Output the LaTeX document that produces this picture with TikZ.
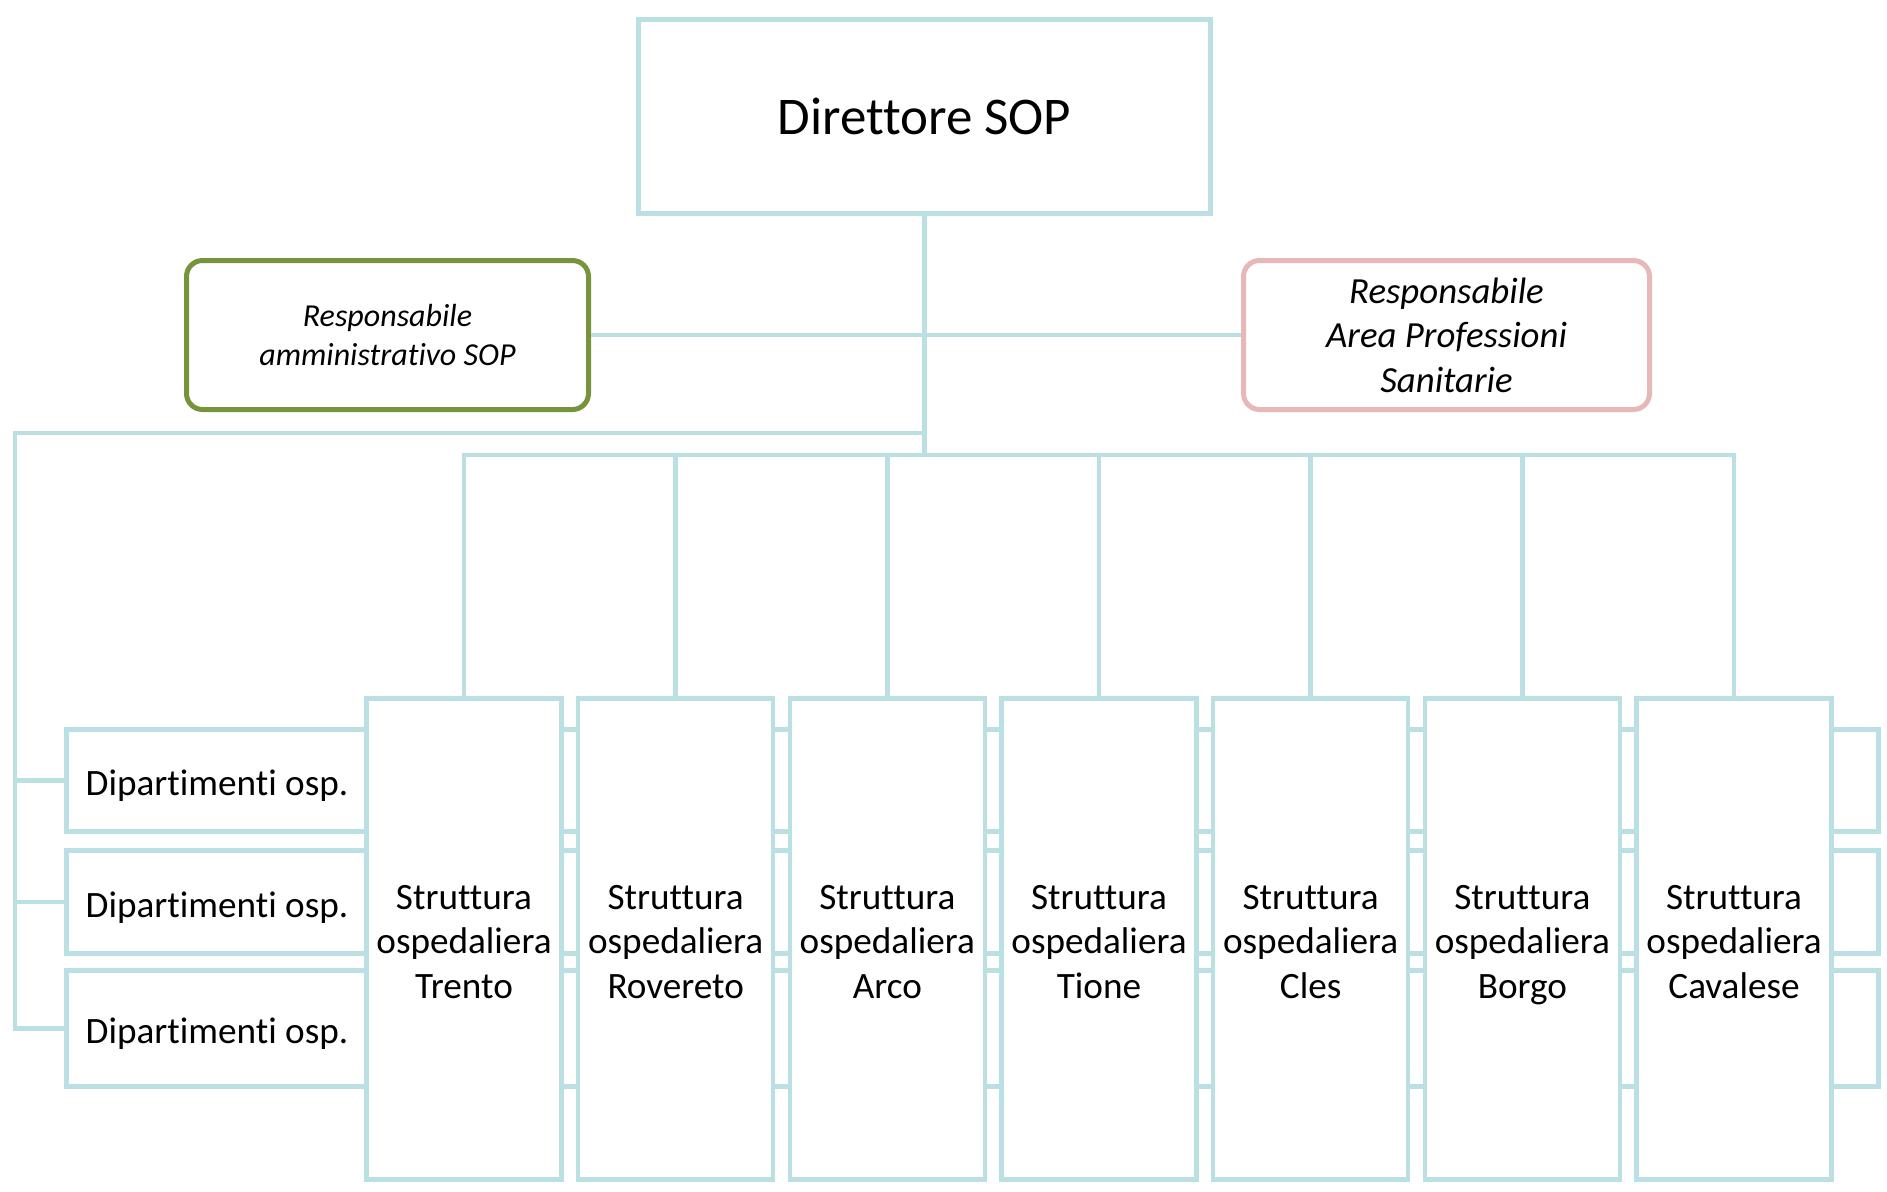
\documentclass[tikz,border=0pt]{standalone}
\usepackage{fontspec}
\setmainfont{Carlito}[Ligatures=NoCommon]
\definecolor{linec}{RGB}{187,224,227}
\definecolor{greenc}{RGB}{119,147,60}
\definecolor{pinkc}{RGB}{230,185,184}
\newcommand{\pxu}[1]{#1*0.5pt}
\begin{document}
\begin{tikzpicture}[x=0.5pt,y=-0.5pt,
  conn/.style={draw=linec,line width=2.25pt},
  boxb/.style={draw=linec,line width=2.25pt,fill=white,inner sep=0pt,align=center},
  txtm/.style={font=\fontsize{18.6}{22.3}\selectfont},
  struct/.style={boxb,minimum width=\pxu{195},minimum height=\pxu{481},txtm},
  deptbox/.style={boxb,anchor=west,minimum width=\pxu{1812}}
]
\useasboundingbox (0,0) rectangle (1887,1191);

\node[boxb,minimum width=\pxu{572},minimum height=\pxu{194},font=\fontsize{26.5}{32}\selectfont] (dir) at (924.5,116.5) {Direttore SOP};
\node[boxb,draw=greenc,line width=2.5pt,rounded corners=8pt,minimum width=\pxu{402},minimum height=\pxu{149},font=\itshape\fontsize{16}{19.3}\selectfont] (adm) at (387.5,335) {Responsabile\\amministrativo SOP};
\node[boxb,draw=pinkc,line width=2.5pt,rounded corners=8pt,minimum width=\pxu{406},minimum height=\pxu{149},font=\itshape\fontsize{18.4}{22.3}\selectfont] (pro) at (1446.5,335) {Responsabile\\Area Professioni\\Sanitarie};

\node[deptbox,minimum height=\pxu{102}] (d1) at (64,780.5) {};
\node[deptbox,minimum height=\pxu{103}] (d2) at (64,902) {};
\node[deptbox,minimum height=\pxu{116}] (d3) at (64,1028.5) {};
\node[txtm,anchor=base,inner sep=0pt] (d1t) at (217,795) {Dipartimenti osp.};
\node[txtm,anchor=base,inner sep=0pt] (d2t) at (217,917) {Dipartimenti osp.};
\node[txtm,anchor=base,inner sep=0pt] (d3t) at (217,1043) {Dipartimenti osp.};

\foreach \i/\c in {1/Trento,2/Rovereto,3/Arco,4/Tione,5/Cles,6/Borgo,7/Cavalese}
  \node[struct] (s\i) at ({464+211.67*(\i-1)},939) {\rule{0pt}{18pt}Struttura\\ospedaliera\\\c\vphantom{g}};

\coordinate (bus) at (924.5,455);
\coordinate (lt) at (924.5,433);
\coordinate (lc) at (15,433);
\draw[conn] (dir.south) -- (bus);
\draw[conn] (adm.east) -- (pro.west);
\draw[conn] (s1.north) -- (s1.north |- bus) -- (s7.north |- bus) -- (s7.north);
\foreach \i in {2,...,6}
  \draw[conn] (s\i.north) -- (s\i.north |- bus);
\draw[conn] (lt) -- (lc) -- (lc |- d3.west) -- (d3.west);
\draw[conn] (lc |- d1.west) -- (d1.west);
\draw[conn] (lc |- d2.west) -- (d2.west);
\end{tikzpicture}
\end{document}
